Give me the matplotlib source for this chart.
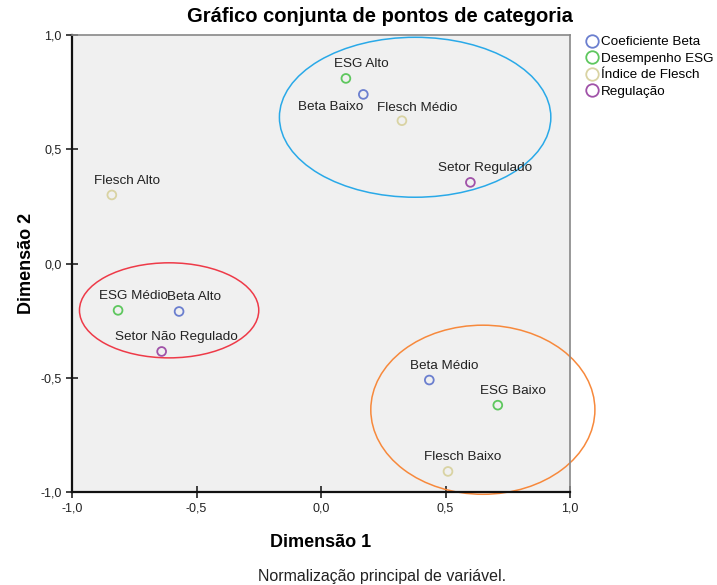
import matplotlib
matplotlib.use("Agg")
import matplotlib.pyplot as plt
from matplotlib.patches import Ellipse
from matplotlib.lines import Line2D
from matplotlib.ticker import FuncFormatter, MultipleLocator

plt.rcParams["font.family"] = ["Liberation Sans", "DejaVu Sans"]

# category points (Dimensão 1, Dimensão 2)
beta_labels = ["Beta Alto", "Beta Médio", "Beta Baixo"]
beta_x = [-0.57, 0.435, 0.17]
beta_y = [-0.21, -0.51, 0.74]

esg_labels = ["ESG Alto", "ESG Médio", "ESG Baixo"]
esg_x = [0.10, -0.815, 0.71]
esg_y = [0.81, -0.205, -0.62]

flesch_labels = ["Flesch Alto", "Flesch Médio", "Flesch Baixo"]
flesch_x = [-0.84, 0.325, 0.51]
flesch_y = [0.30, 0.625, -0.91]

reg_labels = ["Setor Regulado", "Setor Não Regulado"]
reg_x = [0.60, -0.64]
reg_y = [0.355, -0.385]

series = [
    ("Coeficiente Beta", "#6b7fcf", beta_labels, beta_x, beta_y),
    ("Desempenho ESG", "#5ec75e", esg_labels, esg_x, esg_y),
    ("Índice de Flesch", "#d9d3a3", flesch_labels, flesch_x, flesch_y),
    ("Regulação", "#a052a8", reg_labels, reg_x, reg_y),
]

# label offsets in pixels (label centre relative to point)
offsets = {"Beta Baixo": (-33, -13), "Flesch Médio": (15, 13)}

# cluster ellipses: centre x, centre y, width, height, colour
ell_cx = [0.378, -0.61, 0.65]
ell_cy = [0.64, -0.205, -0.64]
ell_w = [1.09, 0.72, 0.90]
ell_h = [0.70, 0.416, 0.74]
ell_col = ["#29a9e8", "#ee3a48", "#f7893c"]

fig = plt.figure(figsize=(7.17, 5.85), dpi=100)
ax = fig.add_axes([72 / 717, 1 - 492 / 585, 498 / 717, 457 / 585])
ax.set_facecolor("#f0f0f0")

for name, col, labs, xs, ys in series:
    ax.scatter(xs, ys, s=40, facecolors="none", edgecolors=col, linewidths=1.3, zorder=3)
    for lab, x, y in zip(labs, xs, ys):
        dx, dy = offsets.get(lab, (15, 14))
        ax.annotate(lab, (x, y), xytext=(dx, dy), textcoords="offset pixels",
                    ha="center", va="center", fontsize=9.7, color="#222222", zorder=4)

for cx, cy, w, h, c in zip(ell_cx, ell_cy, ell_w, ell_h, ell_col):
    ax.add_patch(Ellipse((cx, cy), w, h, fill=False, edgecolor=c, lw=1.1,
                         clip_on=False, zorder=2))

ax.set_xlim(-1, 1); ax.set_ylim(-1, 1)
ax.xaxis.set_major_locator(MultipleLocator(0.5))
ax.yaxis.set_major_locator(MultipleLocator(0.5))
fmt = FuncFormatter(lambda v, p: f"{v:.1f}".replace(".", ","))
ax.xaxis.set_major_formatter(fmt); ax.yaxis.set_major_formatter(fmt)
ax.tick_params(direction="inout", length=8, width=1.2, labelsize=9, colors="#222222")
for s in ("left", "bottom"):
    ax.spines[s].set_linewidth(1.6); ax.spines[s].set_color("#111111")
for s in ("top", "right"):
    ax.spines[s].set_linewidth(1.2); ax.spines[s].set_color("#888888")

ax.set_xlabel("Dimensão 1", fontsize=13, fontweight="bold", labelpad=14)
ax.set_ylabel("Dimensão 2", fontsize=13, fontweight="bold", labelpad=4)
fig.text(380 / 717, 1 - 17 / 585, "Gráfico conjunta de pontos de categoria",
         ha="center", va="center", fontsize=14.5, fontweight="bold")
fig.text(382 / 717, 1 - 576 / 585, "Normalização principal de variável.",
         ha="center", va="center", fontsize=11.5, color="#222222")

handles = [Line2D([], [], ls="none", marker="o", markersize=9, markerfacecolor="none",
                  markeredgecolor=col, markeredgewidth=1.3, label=name)
           for name, col, *_ in series]
fig.legend(handles=handles, loc="upper left", bbox_to_anchor=(587 / 717, 1 - 36 / 585),
           frameon=False, fontsize=9.7, handlelength=0.8, handletextpad=0.25,
           labelspacing=0.3, borderaxespad=0, borderpad=0)

fig.savefig("out.png", dpi=100)
